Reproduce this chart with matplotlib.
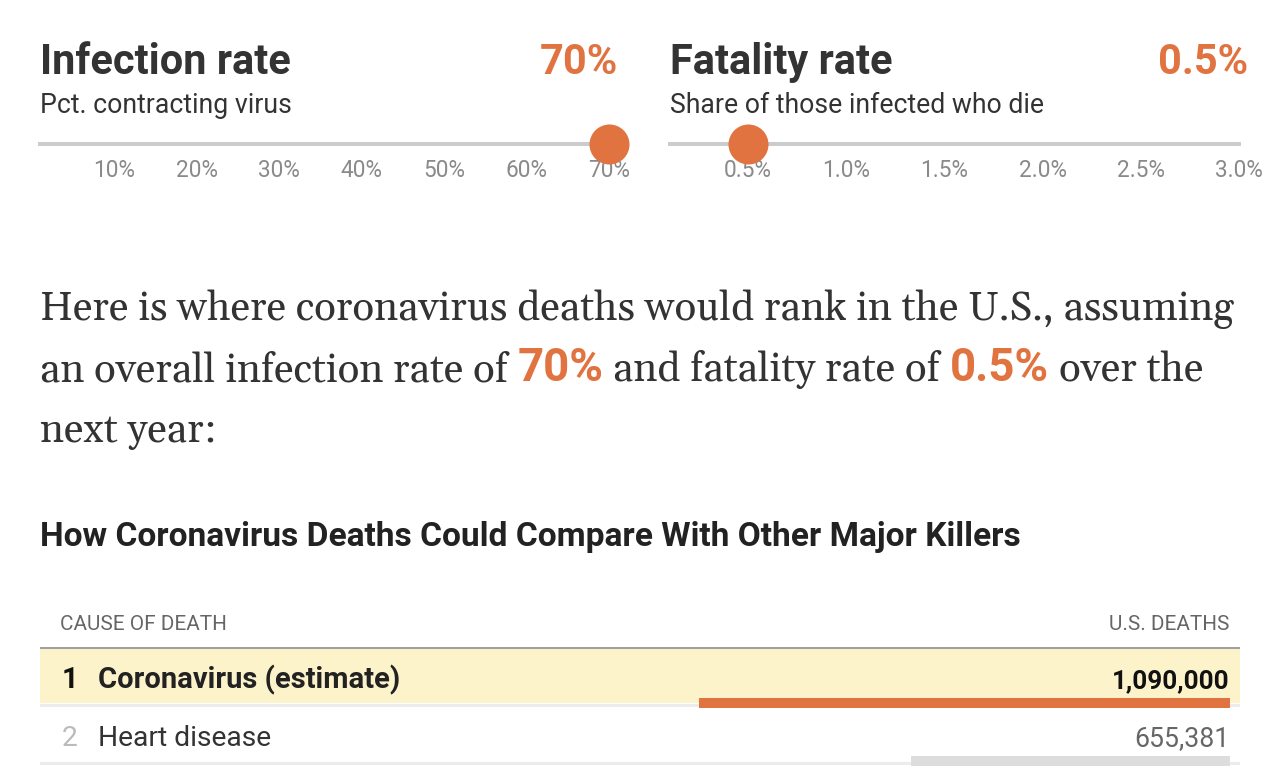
import matplotlib
matplotlib.use("Agg")
import matplotlib.pyplot as plt
import matplotlib.transforms as mtrans

# ---------------- data ----------------
infection_rate = 70            # percent
fatality_rate = 0.5            # percent
infection_ticks = [10, 20, 30, 40, 50, 60, 70]
infection_labels = ["10%", "20%", "30%", "40%", "50%", "60%", "70%"]
fatality_ticks = [0.5, 1.0, 1.5, 2.0, 2.5, 3.0]
fatality_labels = ["0.5%", "1.0%", "1.5%", "2.0%", "2.5%", "3.0%"]
ranks = [1, 2]
causes = ["Coronavirus (estimate)", "Heart disease"]
deaths = [1090000, 655381]
death_labels = ["1,090,000", "655,381"]

# ---------------- style ----------------
W, H = 1282, 784
ORANGE = "#e0733f"
DARK = "#333333"
SANS = ["Roboto", "Libre Franklin", "DejaVu Sans"]
SERIF = ["Gelasio", "Liberation Serif", "DejaVu Serif"]
plt.rcParams["font.family"] = SANS

fig = plt.figure(figsize=(W / 100, H / 100), dpi=100)
fig.patch.set_facecolor("white")
R = fig.canvas.get_renderer()


def measure(s, size, **kw):
    t = fig.text(0, 0, s, fontsize=size, **kw)
    w = t.get_window_extent(R).width
    t.remove()
    return w


def fit(s, target, **kw):
    return 20 * target / measure(s, 20, **kw)


def put(x, y, s, size, ha="left", **kw):
    return fig.text(x / W, 1 - y / H, s, fontsize=size, ha=ha, va="baseline", **kw)


def ax_px(x0, y0, x1, y1):
    return fig.add_axes([x0 / W, 1 - y1 / H, (x1 - x0) / W, (y1 - y0) / H])


# ---------------- sliders ----------------
head_kw = dict(fontweight="bold", family=SANS)
sub_kw = dict(family=SANS)
head_size = fit("Infection rate", 250, **head_kw)
sub_size = fit("Pct. contracting virus", 251, **sub_kw)
tick_size = fit("10%", 42, family=SANS)

put(40, 74, "Infection rate", head_size, color=DARK, **head_kw)
put(618, 74, f"{infection_rate}%", head_size, ha="right", color=ORANGE, **head_kw)
put(40, 113, "Pct. contracting virus", sub_size, color=DARK, **sub_kw)

put(670, 74, "Fatality rate", head_size, color=DARK, **head_kw)
put(1248, 74, f"{fatality_rate}%", head_size, ha="right", color=ORANGE, **head_kw)
put(670, 113, "Share of those infected who die", sub_size, color=DARK, **sub_kw)


def slider(ax, value, ticks, labels, xlim):
    ax.set_xlim(*xlim)
    ax.set_ylim(-1, 1)
    ax.axhline(0, color="#cccccc", lw=2.9, solid_capstyle="round", zorder=1)
    ax.scatter([value], [0], s=(40 * 0.72) ** 2, color=ORANGE, zorder=3,
               clip_on=False, linewidths=0)
    ax.set_xticks(ticks, labels)
    ax.tick_params(axis="x", length=0, pad=3.5, labelsize=tick_size,
                   labelcolor="#8a8a8a")
    ax.set_yticks([])
    for sp in ax.spines.values():
        sp.set_visible(False)
    ax.patch.set_alpha(0)


ax1 = ax_px(38, 134, 628, 154)
slider(ax1, infection_rate, infection_ticks, infection_labels, (0.73, 72.3))
ax2 = ax_px(668, 134, 1241, 154)
slider(ax2, fatality_rate, fatality_ticks, fatality_labels, (0.092, 3.009))

# ---------------- paragraph ----------------
ser_kw = dict(family=SERIF, color=DARK)
line1 = "Here is where coronavirus deaths would rank in the U.S., assuming"
par_size = fit(line1, 1192, family=SERIF)
put(40, 320, line1, par_size, **ser_kw)

space = measure("a a", par_size, family=SERIF) - measure("aa", par_size, family=SERIF)
hl_kw = dict(family=SANS, fontweight="bold", color=ORANGE)
hl_size = fit("70%", 86, family=SANS, fontweight="bold")
pieces = [("an overall infection rate of", ser_kw, par_size),
          (f"{infection_rate}%", hl_kw, hl_size),
          ("and fatality rate of", ser_kw, par_size),
          (f"{fatality_rate}%", hl_kw, hl_size),
          ("over the", ser_kw, par_size)]
x = 40
for s, kw, sz in pieces:
    t = put(x, 381, s, sz, **kw)
    x += t.get_window_extent(R).width + space
put(40, 442, "next year:", par_size, **ser_kw)

# ---------------- table ----------------
title = "How Coronavirus Deaths Could Compare With Other Major Killers"
put(40, 546, title, fit(title, 978, family=SANS, fontweight="bold"),
    family=SANS, fontweight="bold", color="#222222")

hdr_size = fit("CAUSE OF DEATH", 167, family=SANS)
put(60, 630, "CAUSE OF DEATH", hdr_size, color="#666666", family=SANS)
put(1229, 630, "U.S. DEATHS", hdr_size, ha="right", color="#666666", family=SANS)

ROW = 58.0
TOP = 647
ax_t = ax_px(40, TOP, 1240, H)
ax_t.set_xlim(0, 1)
ax_t.set_ylim((H - TOP) / ROW, 0)
ax_t.axis("off")
ax_t.axhline(0, color="#a0a0a0", lw=2.2, zorder=2)
ax_t.axhspan(0, 0.97, color="#fdf3cb", lw=0, zorder=0)
for i in range(len(causes)):
    ax_t.axhline(i + 1.0, color="#ececec", lw=2.2, zorder=1)

ax_b = ax_px(40, TOP, 1230, H)
ax_b.set_xlim(deaths[0] * 1190 / 531, 0)
ax_b.set_ylim((H - TOP) / ROW, 0)
ax_b.axis("off")
ax_b.patch.set_alpha(0)
bar_colors = [ORANGE, "#dddddd"]
ax_b.barh([r - 1 + 0.965 for r in ranks], deaths, height=0.17,
          color=bar_colors, zorder=3)

name_bold = fit(causes[0], 301, family=SANS, fontweight="bold")
name_reg = fit(causes[1], 173, family=SANS)
val_bold = fit(death_labels[0], 117, family=SANS, fontweight="bold")
val_reg = fit(death_labels[1], 95, family=SANS)
tr_x = mtrans.blended_transform_factory(fig.transFigure, ax_t.transData)
for i, (rk, c, lab) in enumerate(zip(ranks, causes, death_labels)):
    yb = i + 0.71
    first = i == 0
    ax_t.text(70 / W, yb, str(rk), transform=tr_x, ha="center", va="baseline",
              fontsize=name_bold if first else name_reg,
              fontweight="bold" if first else "normal",
              color="#111111" if first else "#bbbbbb", family=SANS)
    ax_t.text(98 / W, yb, c, transform=tr_x, ha="left", va="baseline",
              fontsize=name_bold if first else name_reg,
              fontweight="bold" if first else "normal",
              color="#222222" if first else DARK, family=SANS)
    ax_b.text(0, yb, lab, ha="right", va="baseline",
              fontsize=val_bold if first else val_reg,
              fontweight="bold" if first else "normal",
              color="#111111" if first else "#666666", family=SANS)

fig.savefig("out.png", dpi=100, facecolor="white")
